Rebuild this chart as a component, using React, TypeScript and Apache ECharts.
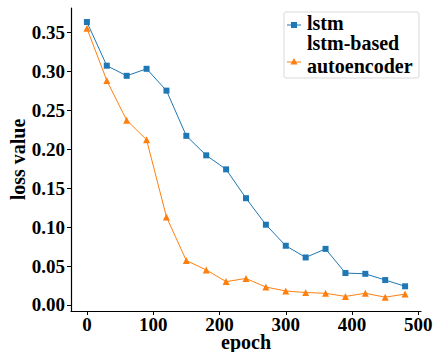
import React, { useEffect, useRef } from "react";
import * as echarts from "echarts";

const epochs = [0, 30, 60, 90, 120, 150, 180, 210, 240, 270, 300, 330, 360, 390, 420, 450, 480];
const lstmLoss = [0.363, 0.307, 0.294, 0.303, 0.275, 0.217, 0.192, 0.174, 0.137, 0.103, 0.076, 0.061, 0.072, 0.041, 0.040, 0.032, 0.024];
const aeLoss = [0.355, 0.288, 0.237, 0.212, 0.113, 0.057, 0.045, 0.030, 0.034, 0.023, 0.018, 0.016, 0.015, 0.011, 0.015, 0.010, 0.014];
const xTicks = [0, 100, 200, 300, 400, 500];
const yTicks = [0, 0.05, 0.1, 0.15, 0.2, 0.25, 0.3, 0.35];
const seriesNames = ["lstm", "lstm-based autoencoder"];

const FONT = "Liberation Serif";
const BLUE = "#1f77b4";
const ORANGE = "#ff7f0e";

export default function App() {
  const ref = useRef<HTMLDivElement>(null);
  useEffect(() => {
    document.body.style.margin = "0";
    const chart = echarts.init(ref.current!, null, { renderer: "svg" });
    const labelStyle = { color: "#000", fontFamily: FONT, fontWeight: "bold" as const, fontSize: 19 };
    const nameStyle = { color: "#000", fontFamily: FONT, fontWeight: "bold" as const, fontSize: 20 };
    const legText = (text: string, y: number) => ({
      type: "text",
      x: 307,
      y,
      z: 101,
      style: { text, fontFamily: FONT, fontWeight: "bold", fontSize: 20, fill: "#000", verticalAlign: "middle", align: "left" },
    });
    chart.setOption({
      animation: false,
      backgroundColor: "#fff",
      textStyle: { fontFamily: FONT },
      grid: { left: 71, top: 8, right: 17, bottom: 41, containLabel: false, outerBoundsMode: "none" },
      xAxis: {
        type: "value",
        min: -24,
        max: 504,
        name: "epoch",
        nameLocation: "middle",
        nameGap: 21,
        nameMoveOverlap: false,
        nameTextStyle: nameStyle,
        axisLine: { show: true, onZero: false, lineStyle: { color: "#000", width: 1.2 } },
        axisTick: { show: true, inside: false, length: 4, customValues: xTicks, lineStyle: { color: "#000", width: 1 } },
        axisLabel: { ...labelStyle, margin: 4, customValues: xTicks, formatter: (v: number) => String(v) },
        splitLine: { show: false },
      },
      yAxis: {
        type: "value",
        min: -0.0077,
        max: 0.381,
        name: "loss value",
        nameLocation: "middle",
        nameGap: 43,
        nameMoveOverlap: false,
        nameTextStyle: nameStyle,
        axisLine: { show: true, onZero: false, lineStyle: { color: "#000", width: 1.2 } },
        axisTick: { show: true, inside: false, length: 4, customValues: yTicks, lineStyle: { color: "#000", width: 1 } },
        axisLabel: { ...labelStyle, margin: 6, customValues: yTicks, formatter: (v: number) => v.toFixed(2) },
        splitLine: { show: false },
      },
      series: [
        {
          name: seriesNames[0],
          type: "line",
          data: epochs.map((e, i) => [e, lstmLoss[i]]),
          symbol: "rect",
          symbolSize: 6,
          lineStyle: { color: BLUE, width: 1 },
          itemStyle: { color: BLUE },
        },
        {
          name: seriesNames[1],
          type: "line",
          data: epochs.map((e, i) => [e, aeLoss[i]]),
          symbol: "triangle",
          symbolSize: 7,
          lineStyle: { color: ORANGE, width: 1 },
          itemStyle: { color: ORANGE },
        },
      ],
      graphic: [
        {
          type: "rect",
          shape: { x: 284, y: 12, width: 135, height: 66, r: 2 },
          style: { fill: "rgba(255,255,255,0.8)", stroke: "#d9d9d9", lineWidth: 1 },
          z: 100,
        },
        { type: "line", shape: { x1: 287, y1: 25, x2: 301, y2: 25 }, style: { stroke: BLUE, lineWidth: 1 }, z: 101 },
        { type: "rect", shape: { x: 291, y: 22, width: 6, height: 6 }, style: { fill: BLUE }, z: 101 },
        { type: "line", shape: { x1: 287, y1: 62, x2: 301, y2: 62 }, style: { stroke: ORANGE, lineWidth: 1 }, z: 101 },
        { type: "polygon", shape: { points: [[294, 58], [290.5, 64.5], [297.5, 64.5]] }, style: { fill: ORANGE }, z: 101 },
        legText("lstm", 22.5),
        legText("lstm-based", 43),
        legText("autoencoder", 65.5),
      ],
    });
    return () => chart.dispose();
  }, []);
  return <div ref={ref} style={{ width: 438, height: 352 }} />;
}
